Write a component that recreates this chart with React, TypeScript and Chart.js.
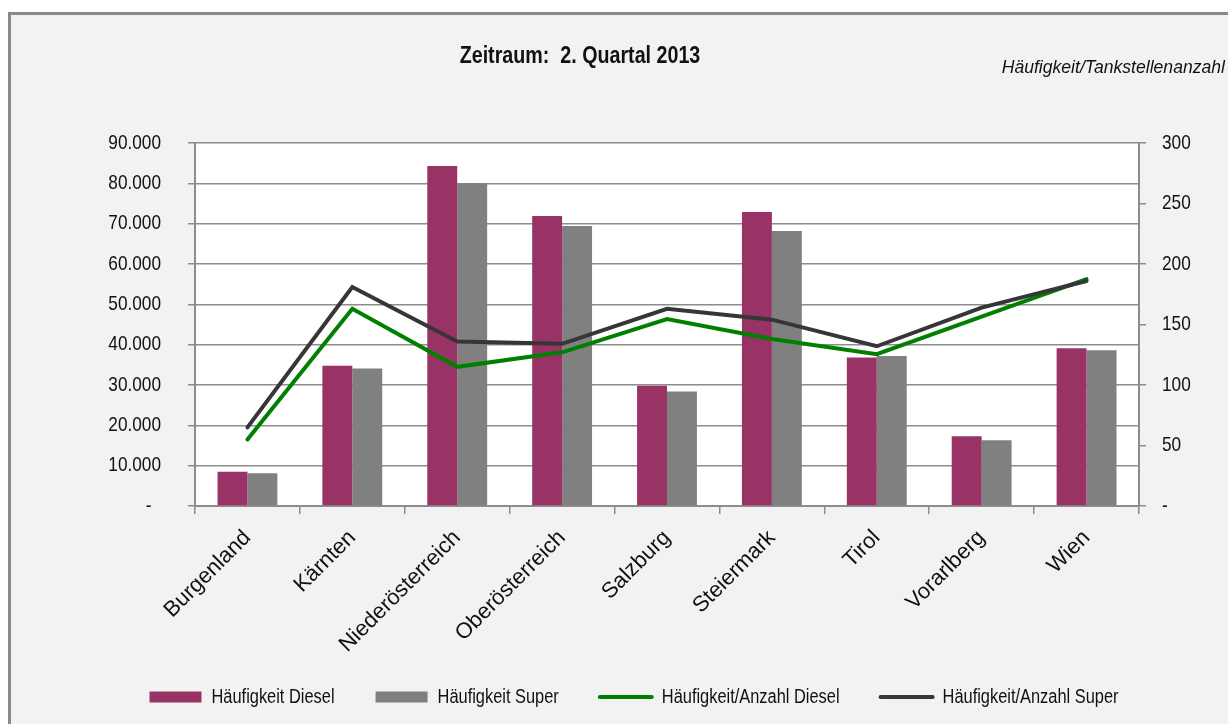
import React, { useEffect, useRef } from "react";
import { Chart, registerables } from "chart.js";

Chart.register(...registerables);

const categories = ["Burgenland", "Kärnten", "Niederösterreich", "Oberösterreich", "Salzburg", "Steiermark", "Tirol", "Vorarlberg", "Wien"];
const haeufigkeitDiesel = [8500, 34800, 84300, 71900, 29800, 72900, 36800, 17300, 39100];
const haeufigkeitSuper = [8100, 34100, 80000, 69400, 28400, 68200, 37200, 16300, 38600];
const anzahlDiesel = [55, 163, 115, 127, 154.5, 138, 125.5, 156.5, 187.5];
const anzahlSuper = [65, 181, 136, 134, 163, 154, 132, 164, 186];
const seriesLabels = ["Häufigkeit Diesel", "Häufigkeit Super", "Häufigkeit/Anzahl Diesel", "Häufigkeit/Anzahl Super"];
const titleText = "Zeitraum:  2. Quartal 2013";
const unitText = "Häufigkeit/Tankstellenanzahl";

// Arial Narrow look-alike: a family name that is not installed, so Liberation Sans is used and
// text drawn with it is condensed horizontally by the context wrapper below.
const NARROW_MARK = "NarrowSim";
const NARROW = `${NARROW_MARK}, 'Liberation Sans', Arial, sans-serif`;
const REGULAR = "'Liberation Sans', Arial, sans-serif";
const SQUEEZE = 0.82;
const GRID = "#8c8c8c";

function fmt(v: number): string {
  if (v === 0) return "-  ";
  return String(v).replace(/\B(?=(\d{3})+(?!\d))/g, ".");
}

function condenseContext(ctx: CanvasRenderingContext2D) {
  const proto = CanvasRenderingContext2D.prototype;
  const origFill = proto.fillText;
  const origMeasure = proto.measureText;
  (ctx as any).fillText = function (text: string, x: number, y: number, maxWidth?: number) {
    if (String(this.font).includes(NARROW_MARK)) {
      this.save();
      this.translate(x, y);
      this.scale(SQUEEZE, 1);
      if (maxWidth === undefined) origFill.call(this, text, 0, 0);
      else origFill.call(this, text, 0, 0, maxWidth / SQUEEZE);
      this.restore();
    } else if (maxWidth === undefined) {
      origFill.call(this, text, x, y);
    } else {
      origFill.call(this, text, x, y, maxWidth);
    }
  };
  (ctx as any).measureText = function (text: string) {
    const m = origMeasure.call(this, text);
    if (!String(this.font).includes(NARROW_MARK)) return m;
    return {
      width: m.width * SQUEEZE,
      actualBoundingBoxLeft: m.actualBoundingBoxLeft * SQUEEZE,
      actualBoundingBoxRight: m.actualBoundingBoxRight * SQUEEZE,
      actualBoundingBoxAscent: m.actualBoundingBoxAscent,
      actualBoundingBoxDescent: m.actualBoundingBoxDescent,
      fontBoundingBoxAscent: m.fontBoundingBoxAscent,
      fontBoundingBoxDescent: m.fontBoundingBoxDescent,
    };
  };
}

export default function App() {
  const ref = useRef<HTMLCanvasElement | null>(null);
  useEffect(() => {
    const canvas = ref.current;
    if (!canvas) return;
    const ctx2d = canvas.getContext("2d");
    if (ctx2d) condenseContext(ctx2d);
    const bgPlugin = {
      id: "bg",
      beforeDraw(chart: any) {
        const { ctx, chartArea } = chart;
        ctx.save();
        ctx.fillStyle = "#ffffff";
        ctx.fillRect(chartArea.left, chartArea.top, chartArea.right - chartArea.left, chartArea.bottom - chartArea.top);
        ctx.restore();
      },
      afterDraw(chart: any) {
        const { ctx } = chart;
        ctx.save();
        ctx.fillStyle = "#111";
        ctx.font = `bold 24px ${NARROW}`;
        ctx.textAlign = "center";
        ctx.textBaseline = "alphabetic";
        ctx.fillText(titleText, 580, 63);
        ctx.font = `italic 17.6px ${REGULAR}`;
        ctx.textAlign = "right";
        ctx.fillText(unitText, 1225, 73);
        ctx.restore();
      },
    };
    const chart = new Chart(canvas, {
      type: "bar",
      data: {
        labels: categories,
        datasets: [
          { type: "bar", label: seriesLabels[0], data: haeufigkeitDiesel, backgroundColor: "#993366", borderWidth: 0, yAxisID: "y", order: 2, categoryPercentage: 0.571, barPercentage: 1.0 } as any,
          { type: "bar", label: seriesLabels[1], data: haeufigkeitSuper, backgroundColor: "#808080", borderWidth: 0, yAxisID: "y", order: 2, categoryPercentage: 0.571, barPercentage: 1.0 } as any,
          { type: "line", label: seriesLabels[2], data: anzahlDiesel, borderColor: "#008000", backgroundColor: "#008000", borderWidth: 4, pointRadius: 0, yAxisID: "y1", order: 1, borderCapStyle: "round", borderJoinStyle: "miter", tension: 0 } as any,
          { type: "line", label: seriesLabels[3], data: anzahlSuper, borderColor: "#363636", backgroundColor: "#363636", borderWidth: 4, pointRadius: 0, yAxisID: "y1", order: 0, borderCapStyle: "round", borderJoinStyle: "miter", tension: 0 } as any,
        ],
      },
      options: {
        responsive: false,
        animation: false,
        layout: { padding: { left: 40, top: 143, right: 0, bottom: 7 } },
        plugins: {
          title: { display: false },
          tooltip: { enabled: false },
          legend: {
            display: true,
            position: "bottom",
            labels: {
              usePointStyle: true,
              pointStyleWidth: 52,
              boxHeight: 11,
              padding: 41,
              color: "#111",
              font: { family: NARROW, size: 20 },
              sort: (a: any, b: any) => a.datasetIndex - b.datasetIndex,
              generateLabels: (c: any) => {
                const items = (Chart.defaults as any).plugins.legend.labels.generateLabels(c);
                return items.map((it: any) => ({
                  ...it,
                  pointStyle: it.datasetIndex < 2 ? "rect" : "line",
                  lineWidth: it.datasetIndex < 2 ? 0 : 4,
                  lineCap: "round",
                }));
              },
            },
          },
        },
        scales: {
          x: {
            offset: true,
            grid: { display: true, drawOnChartArea: false, drawTicks: true, tickLength: 8, color: GRID, lineWidth: 1.5, offset: true },
            border: { display: true, color: GRID, width: 2 },
            ticks: { autoSkip: false, maxRotation: 45, minRotation: 45, padding: 11, color: "#111", font: { family: REGULAR, size: 22 } },
            afterFit: (s: any) => {
              s.height = 140;
              // let the rotated category names run past the axis box, as in the original
              s._computeLabelArea = () => undefined;
            },
          },
          y: {
            position: "left",
            min: 0,
            max: 90000,
            ticks: { stepSize: 10000, padding: 27, color: "#111", font: { family: NARROW, size: 21 }, callback: (v: any) => fmt(Number(v)) },
            grid: { color: GRID, lineWidth: 1.5, tickLength: 7, drawTicks: true },
            border: { display: true, color: GRID, width: 2 },
            afterFit: (s: any) => { s.width = 155; },
          },
          y1: {
            position: "right",
            min: 0,
            max: 300,
            ticks: { stepSize: 50, padding: 16, color: "#111", font: { family: NARROW, size: 21 }, callback: (v: any) => (Number(v) === 0 ? "-" : String(v)) },
            grid: { drawOnChartArea: false, drawTicks: true, tickLength: 7, color: GRID, lineWidth: 1.5 },
            border: { display: true, color: GRID, width: 2 },
            afterFit: (s: any) => { s.width = 89; },
          },
        },
      },
      plugins: [bgPlugin],
    } as any);
    return () => chart.destroy();
  }, []);

  return (
    <div style={{ position: "fixed", left: 0, top: 0, width: 1228, height: 724, overflow: "hidden", background: "#ffffff" }}>
      <div style={{ position: "absolute", left: 8, top: 12, width: 1260, height: 760, boxSizing: "border-box", borderLeft: "3px solid #8a8a8a", borderTop: "3px solid #8a8a8a", background: "#f2f2f2" }} />
      <canvas ref={ref} width={1228} height={724} style={{ position: "absolute", left: 0, top: 0, display: "block" }} />
    </div>
  );
}
